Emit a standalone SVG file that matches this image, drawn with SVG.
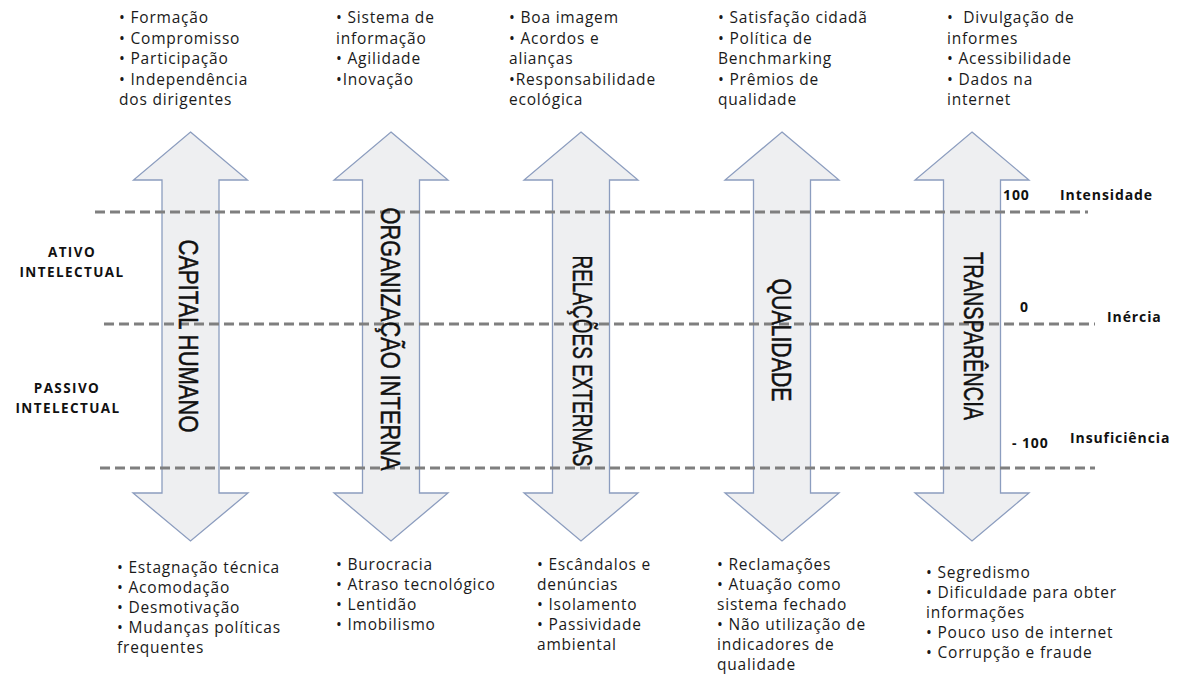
<svg xmlns="http://www.w3.org/2000/svg" width="1183" height="675" viewBox="0 0 1183 675">
<defs>
<style>
.arrow{fill:#eeeff1;stroke:#8c9dbf;stroke-width:1.3;stroke-linejoin:miter}
.dash{stroke:#7f7f7f;stroke-width:3;stroke-dasharray:10 5;fill:none}
.vl{font-family:"Liberation Sans",Arial,sans-serif;font-size:27px;fill:#111;stroke:#111;stroke-width:0.5px;text-anchor:middle}
.it{font-family:"Open Sans","Noto Sans",sans-serif;font-size:15.5px;letter-spacing:0.8px;fill:#1a1a1a}
.side{font-family:"Open Sans","Noto Sans",sans-serif;font-size:13.5px;font-weight:bold;letter-spacing:1.4px;fill:#111}
.sc{font-family:"Open Sans","Noto Sans",sans-serif;font-size:14px;font-weight:bold;letter-spacing:0.9px;fill:#111}
</style>
</defs>
<rect width="1183" height="675" fill="#ffffff"/>

<g id="arrow-capital">
<polygon class="arrow" points="190.5,132 247.5,180 219,180 219,493 248,493 190.5,541 133,493 162,493 162,180 133.5,180"/>
</g>
<g id="arrow-organizacao">
<polygon class="arrow" points="391,132 448,180 419.5,180 419.5,493 448,493 391,541 334,493 362.5,493 362.5,180 334,180"/>
</g>
<g id="arrow-relacoes">
<polygon class="arrow" points="581,132 638,180 609.5,180 609.5,493 638,493 581,541 524,493 552.5,493 552.5,180 524,180"/>
</g>
<g id="arrow-qualidade">
<polygon class="arrow" points="782,132 839,180 810.5,180 810.5,493 839,493 782,541 725,493 753.5,493 753.5,180 725,180"/>
</g>
<g id="arrow-transparencia">
<polygon class="arrow" points="972,132 1029,180 1000.5,180 1000.5,493 1029,493 972,541 915,493 943.5,493 943.5,180 915,180"/>
</g>

<g id="connectors">
<line class="dash" x1="95" y1="212" x2="1088" y2="212"/>
<line class="dash" x1="104" y1="324" x2="1095" y2="324"/>
<line class="dash" x1="100" y1="468" x2="1095" y2="468"/>
</g>

<g id="labels-vertical">
<text class="vl" transform="translate(189,336) rotate(90)" y="9.7" textLength="193" lengthAdjust="spacingAndGlyphs">CAPITAL HUMANO</text>
<text class="vl" transform="translate(391,339) rotate(90)" y="9.7" textLength="263" lengthAdjust="spacingAndGlyphs">ORGANIZAÇÃO INTERNA</text>
<text class="vl" transform="translate(583,361) rotate(90)" y="9.7" textLength="211" lengthAdjust="spacingAndGlyphs">RELAÇÕES EXTERNAS</text>
<text class="vl" transform="translate(782,340) rotate(90)" y="9.7" textLength="123" lengthAdjust="spacingAndGlyphs">QUALIDADE</text>
<text class="vl" transform="translate(974,336) rotate(90)" y="9.7" textLength="168" lengthAdjust="spacingAndGlyphs">TRANSPARÊNCIA</text>
</g>

<g id="side-left">
<text class="side" x="72" y="257" text-anchor="middle">ATIVO</text>
<text class="side" x="72" y="277" text-anchor="middle">INTELECTUAL</text>
<text class="side" x="67" y="393" text-anchor="middle">PASSIVO</text>
<text class="side" x="68" y="413" text-anchor="middle">INTELECTUAL</text>
</g>

<g id="scale-right">
<text class="sc" x="1003" y="200">100</text>
<text class="sc" x="1060" y="200">Intensidade</text>
<text class="sc" x="1020" y="312">0</text>
<text class="sc" x="1107" y="322">Inércia</text>
<text class="sc" x="1012" y="448">- 100</text>
<text class="sc" x="1070" y="443">Insuficiência</text>
</g>

<g id="top-capital">
<text class="it" x="119" y="23">• Formação</text>
<text class="it" x="119" y="44">• Compromisso</text>
<text class="it" x="119" y="64">• Participação</text>
<text class="it" x="119" y="85">• Independência</text>
<text class="it" x="119" y="105">dos dirigentes</text>
</g>
<g id="top-organizacao">
<text class="it" x="336" y="23">• Sistema de</text>
<text class="it" x="336" y="44">informação</text>
<text class="it" x="336" y="64">• Agilidade</text>
<text class="it" x="336" y="85">•Inovação</text>
</g>
<g id="top-relacoes">
<text class="it" x="509" y="23">• Boa imagem</text>
<text class="it" x="509" y="44">• Acordos e</text>
<text class="it" x="509" y="64">alianças</text>
<text class="it" x="509" y="85">•Responsabilidade</text>
<text class="it" x="509" y="105">ecológica</text>
</g>
<g id="top-qualidade">
<text class="it" x="718" y="23">• Satisfação cidadã</text>
<text class="it" x="718" y="44">• Política de</text>
<text class="it" x="718" y="64">Benchmarking</text>
<text class="it" x="718" y="85">• Prêmios de</text>
<text class="it" x="718" y="105">qualidade</text>
</g>
<g id="top-transparencia">
<text class="it" x="947" y="23" xml:space="preserve">•  Divulgação de</text>
<text class="it" x="947" y="44">informes</text>
<text class="it" x="947" y="64">• Acessibilidade</text>
<text class="it" x="947" y="85">• Dados na</text>
<text class="it" x="947" y="105">internet</text>
</g>

<g id="bottom-capital">
<text class="it" x="117" y="573">• Estagnação técnica</text>
<text class="it" x="117" y="593">• Acomodação</text>
<text class="it" x="117" y="613">• Desmotivação</text>
<text class="it" x="117" y="633">• Mudanças políticas</text>
<text class="it" x="117" y="653">frequentes</text>
</g>
<g id="bottom-organizacao">
<text class="it" x="336" y="570">• Burocracia</text>
<text class="it" x="336" y="590">• Atraso tecnológico</text>
<text class="it" x="336" y="610">• Lentidão</text>
<text class="it" x="336" y="630">• Imobilismo</text>
</g>
<g id="bottom-relacoes">
<text class="it" x="537" y="570">• Escândalos e</text>
<text class="it" x="537" y="590">denúncias</text>
<text class="it" x="537" y="610">• Isolamento</text>
<text class="it" x="537" y="630">• Passividade</text>
<text class="it" x="537" y="650">ambiental</text>
</g>
<g id="bottom-qualidade">
<text class="it" x="717" y="570">• Reclamações</text>
<text class="it" x="717" y="590">• Atuação como</text>
<text class="it" x="717" y="610">sistema fechado</text>
<text class="it" x="717" y="630">• Não utilização de</text>
<text class="it" x="717" y="650">indicadores de</text>
<text class="it" x="717" y="670">qualidade</text>
</g>
<g id="bottom-transparencia">
<text class="it" x="926" y="578">• Segredismo</text>
<text class="it" x="926" y="598">• Dificuldade para obter</text>
<text class="it" x="926" y="618">informações</text>
<text class="it" x="926" y="638">• Pouco uso de internet</text>
<text class="it" x="926" y="658">• Corrupção e fraude</text>
</g>
</svg>
